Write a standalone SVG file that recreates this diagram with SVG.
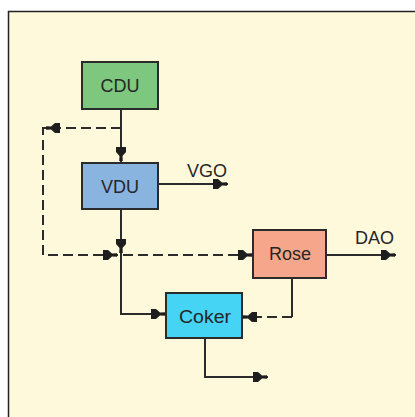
<svg xmlns="http://www.w3.org/2000/svg" xmlns:xlink="http://www.w3.org/1999/xlink" width="415" height="417" viewBox="0 0 415 417">
<style>
.box{stroke:#2b2b2b;stroke-width:2}
.lbl{font-family:"Liberation Sans",Arial,sans-serif;font-size:18px;fill:#262626;text-anchor:middle}
.ext{font-family:"Liberation Sans",Arial,sans-serif;font-size:18px;fill:#262626}
.ln{fill:none;stroke:#2b2b2b;stroke-width:2}
.dash{fill:none;stroke:#2b2b2b;stroke-width:2;stroke-dasharray:10,5}
.ah{fill:#1e1e1e}
</style>
<defs>
<path id="ah" d="M-9,-5 L-4,-5 L0,-1.5 L5,-1.8 L5,1.8 L0,1.5 L-4,5 L-9,5 Z"/>
</defs>
<rect x="0" y="0" width="415" height="417" fill="#ffffff"/>
<rect x="8.5" y="11.5" width="410" height="410" fill="#fff9dc" stroke="#222" stroke-width="1.5"/>
<g id="connectors">
<path class="ln" d="M121,109 V163"/>
<path class="dash" d="M121,128 H43 V255 H253"/>
<path class="ln" d="M121,209 V314 H166"/>
<path class="ln" d="M158,184 H228"/>
<path class="ln" d="M326,255 H396"/>
<path class="ln" d="M292,278 V317"/>
<path class="dash" d="M292,317 H242"/>
<path class="ln" d="M205,338 V377 H268"/>
<use href="#ah" class="ah" transform="translate(121,156) rotate(90)"/>
<use href="#ah" class="ah" transform="translate(51,128) rotate(180)"/>
<use href="#ah" class="ah" transform="translate(112,255)"/>
<use href="#ah" class="ah" transform="translate(121,248) rotate(90)"/>
<use href="#ah" class="ah" transform="translate(247,255)"/>
<use href="#ah" class="ah" transform="translate(160,314)"/>
<use href="#ah" class="ah" transform="translate(222,184)"/>
<use href="#ah" class="ah" transform="translate(390,255)"/>
<use href="#ah" class="ah" transform="translate(248,317) rotate(180)"/>
<use href="#ah" class="ah" transform="translate(262,377)"/>
</g>
<g id="cdu">
<rect class="box" x="82" y="62" width="76" height="47" fill="#7dc77f"/>
<text class="lbl" x="120" y="92">CDU</text>
</g>
<g id="vdu">
<rect class="box" x="82" y="163" width="76" height="46" fill="#8ab4e0"/>
<text class="lbl" x="120" y="193">VDU</text>
</g>
<g id="rose">
<rect class="box" x="253" y="230" width="73" height="48" fill="#f6a68a"/>
<text class="lbl" x="290" y="260">Rose</text>
</g>
<g id="coker">
<rect class="box" x="166" y="293" width="76" height="45" fill="#46d4f5"/>
<text class="lbl" x="205" y="323" textLength="52" lengthAdjust="spacingAndGlyphs">Coker</text>
</g>
<g id="outputs">
<text class="ext" x="187" y="177">VGO</text>
<text class="ext" x="355" y="244">DAO</text>
</g>
</svg>
